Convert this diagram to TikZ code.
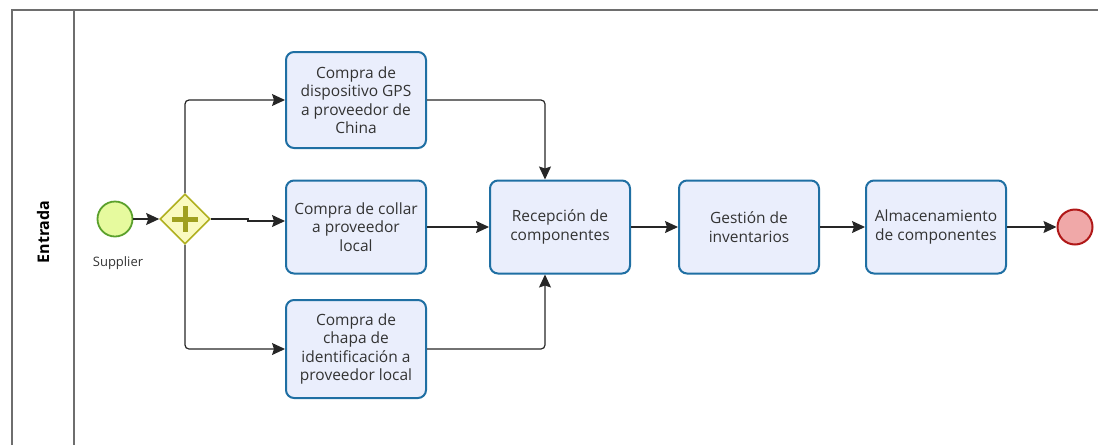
\documentclass[tikz,border=0pt]{standalone}
\usepackage{fontspec}
\setmainfont{Open Sans}
\usetikzlibrary{arrows.meta,shapes.geometric}
\definecolor{boxfill}{HTML}{EAEEFC}
\definecolor{boxdraw}{HTML}{1F6FA3}
\definecolor{txt}{HTML}{333333}
\definecolor{startfill}{HTML}{E6FA9E}
\definecolor{startdraw}{HTML}{5AA02C}
\definecolor{gwfill}{HTML}{FAFAC0}
\definecolor{gwdraw}{HTML}{B0B020}
\definecolor{plus}{HTML}{A0A020}
\definecolor{endfill}{HTML}{F0A8A8}
\definecolor{enddraw}{HTML}{B01818}
\definecolor{lanecol}{HTML}{6E6E6E}
\tikzset{
  task/.style={draw=boxdraw, fill=boxfill, line width=2pt, rounded corners=8pt,
    minimum width=140pt, minimum height=93pt, inner sep=2pt, align=center,
    text=txt, font=\fontsize{15.5}{18.5}\selectfont},
  flow/.style={draw=black!85, line width=1.2pt, rounded corners=4pt,
    -{Stealth[length=13pt,width=12pt,inset=2pt]}},
  lane/.style={draw=lanecol, line width=1.6pt}
}
\begin{document}
\begin{tikzpicture}[x=1pt,y=-1pt]
\useasboundingbox (0,0) rectangle (1098,445);
% lane
\draw[lane] (12,445) -- (12,10) -- (1098,10);
\draw[lane] (74,10) -- (74,445);
\node[rotate=90, font=\bfseries\fontsize{16}{18}\selectfont, text=black] (lanelbl) at (43,232) {Entrada};
% start
\node[circle, draw=startdraw, fill=startfill, line width=1.8pt, minimum size=35pt, inner sep=0pt] (start) at (115,219) {};
\node[font=\fontsize{13}{15}\selectfont, text=txt] (suplbl) at (118,263) {Supplier};
% gateway
\node[diamond, draw=gwdraw, fill=gwfill, line width=1.6pt, minimum width=50pt, minimum height=50pt, inner sep=0pt, aspect=1] (gw) at (185,219) {};
\draw[plus, line width=5pt] (gw.center) ++(-13,0) -- ++(26,0);
\draw[plus, line width=5pt] (gw.center) ++(0,-13) -- ++(0,26);
% tasks
\node[task, minimum height=96pt] (t1) at (356,100) {Compra de\\dispositivo GPS\\a proveedor de\\China};
\node[task] (t2) at (356,227) {Compra de collar\\a proveedor\\local};
\node[task, minimum height=98pt] (t3) at (356,349) {Compra de\\chapa de\\identificación a\\proveedor local};
\node[task] (t4) at (560,227) {Recepción de\\componentes};
\node[task] (t5) at (749,227) {Gestión de\\inventarios};
\node[task] (t6) at (936,227) {Almacenamiento\\de componentes};
% end
\node[circle, draw=enddraw, fill=endfill, line width=2pt, minimum size=35pt, inner sep=0pt] (end) at (1075,227) {};
% flows
\draw[flow] (start) -- (gw);
\draw[flow] (gw.north) |- (t1.west);
\draw[flow, rounded corners=0pt] (gw.east) -- (248,219) -- (248,221) -- (t2.west |- 0,221);
\draw[flow] (gw.south) |- (t3.west);
\draw[flow] (t1.east) -| (t4.north -| 545,0);
\draw[flow] (t2.east) -- (t4.west);
\draw[flow] (t3.east) -| (t4.south -| 545,0);
\draw[flow] (t4) -- (t5);
\draw[flow] (t5) -- (t6);
\draw[flow] (t6.east) -- (end.west);
\end{tikzpicture}
\end{document}
